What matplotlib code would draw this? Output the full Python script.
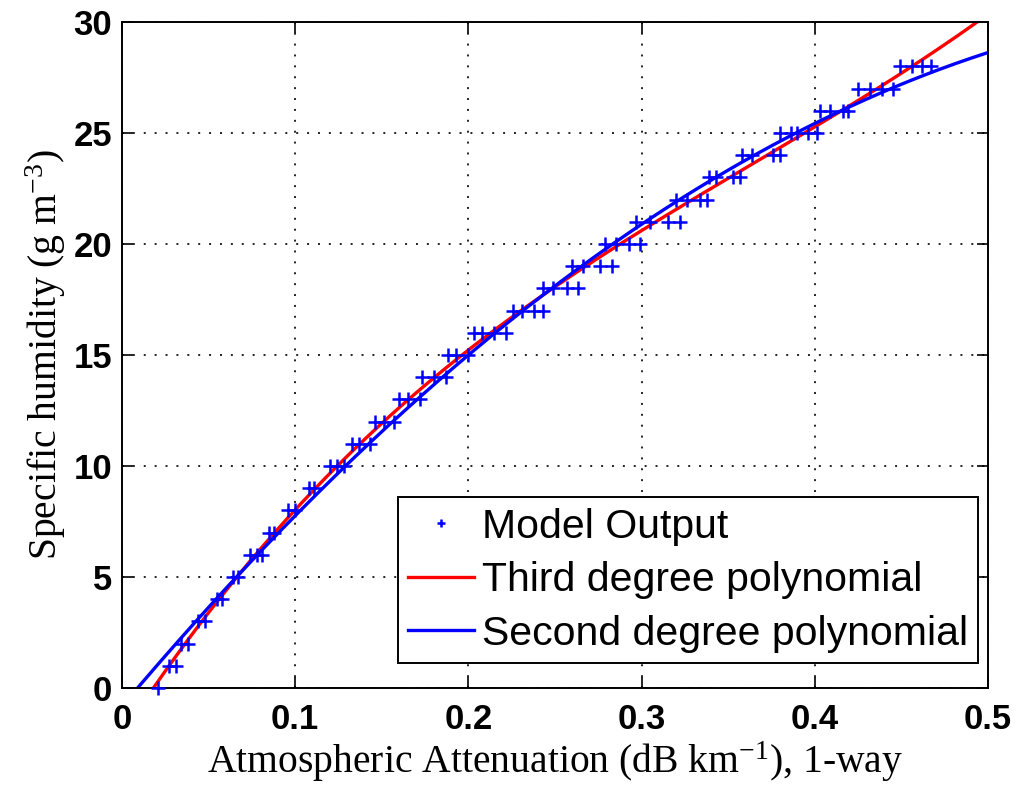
import numpy as np
import matplotlib
matplotlib.use("Agg")
import matplotlib.pyplot as plt

# humidity levels (g m^-3) and the attenuation values read for each level
humidity_levels = list(range(0, 29))
attenuation_by_level = [
    [0.021],
    [0.027, 0.031],
    [0.034, 0.038],
    [0.044, 0.048],
    [0.055, 0.058],
    [0.064, 0.067],
    [0.074, 0.078, 0.081],
    [0.085, 0.088],
    [0.096, 0.100],
    [0.108, 0.111],
    [0.120, 0.124, 0.128],
    [0.133, 0.137, 0.143],
    [0.146, 0.151, 0.157],
    [0.160, 0.165, 0.172],
    [0.173, 0.180, 0.187],
    [0.188, 0.193, 0.200],
    [0.203, 0.208, 0.215, 0.222],
    [0.226, 0.231, 0.238, 0.243],
    [0.243, 0.249, 0.257, 0.263],
    [0.260, 0.266, 0.276, 0.283],
    [0.279, 0.285, 0.293, 0.299],
    [0.297, 0.305, 0.315, 0.322],
    [0.320, 0.326, 0.334, 0.338],
    [0.339, 0.343, 0.353, 0.357],
    [0.358, 0.364, 0.376, 0.380],
    [0.380, 0.386, 0.390, 0.396, 0.401],
    [0.403, 0.409, 0.416, 0.419],
    [0.425, 0.432, 0.439, 0.445],
    [0.449, 0.456, 0.462, 0.467],
]

xticks = [0, 0.1, 0.2, 0.3, 0.4, 0.5]
xticklabels = ["0", "0.1", "0.2", "0.3", "0.4", "0.5"]
yticks = [0, 5, 10, 15, 20, 25, 30]

# flatten into point lists
atten = []
hum = []
for h, xs in zip(humidity_levels, attenuation_by_level):
    for x in xs:
        atten.append(x)
        hum.append(h)
atten = np.array(atten)
hum = np.array(hum)

# polynomial fits humidity = f(attenuation)
p3 = np.polyfit(atten, hum, 3)
p2 = np.polyfit(atten, hum, 2)
xfit = np.linspace(0, 0.5, 400)

plt.rcParams['mathtext.default'] = 'regular'

fig = plt.figure(figsize=(10.19, 7.88), dpi=100)
ax = fig.add_axes([0.1197, 0.1269, 0.8499, 0.8451])

ax.plot(atten, hum, '+', color='blue', markersize=10, markeredgewidth=1.8,
        label='Model Output', clip_on=False, zorder=3)
ax.plot(xfit, np.polyval(p3, xfit), color='red', linewidth=2.4,
        label='Third degree polynomial')
ax.plot(xfit, np.polyval(p2, xfit), color='blue', linewidth=2.4,
        label='Second degree polynomial')

ax.set_xlim(0, 0.5)
ax.set_ylim(0, 30)
ax.set_xticks(xticks)
ax.set_xticklabels(xticklabels)
ax.set_yticks(yticks)
ax.grid(True, color='#222222', linestyle=(0, (1, 4.6)), linewidth=1.4)
ax.tick_params(direction='in', top=True, right=True, length=8, width=1.2,
               labelsize=25)
ax.tick_params(axis='x', pad=11)
ax.tick_params(axis='y', pad=7)
for lab in ax.get_xticklabels() + ax.get_yticklabels():
    lab.set_family('Liberation Sans')
    lab.set_fontweight('bold')
for s in ax.spines.values():
    s.set_linewidth(1.4)

ax.set_xlabel('Atmospheric Attenuation (dB km$^{-1}$), 1-way',
              family='Liberation Serif', fontsize=28.5, labelpad=2)
ax.set_ylabel('Specific humidity (g m$^{-3}$)',
              family='Liberation Serif', fontsize=28.5, labelpad=4)

leg = ax.legend(loc='lower right', bbox_to_anchor=(0.9885, 0.0375),
                prop={'family': 'Liberation Sans', 'size': 29.5},
                fancybox=False, framealpha=1, edgecolor='black',
                borderaxespad=0, borderpad=0.25, handlelength=1.6,
                handletextpad=0.2, labelspacing=0.38, markerscale=0.6)
leg.get_frame().set_linewidth(1.4)

fig.savefig('out.png', dpi=100)
